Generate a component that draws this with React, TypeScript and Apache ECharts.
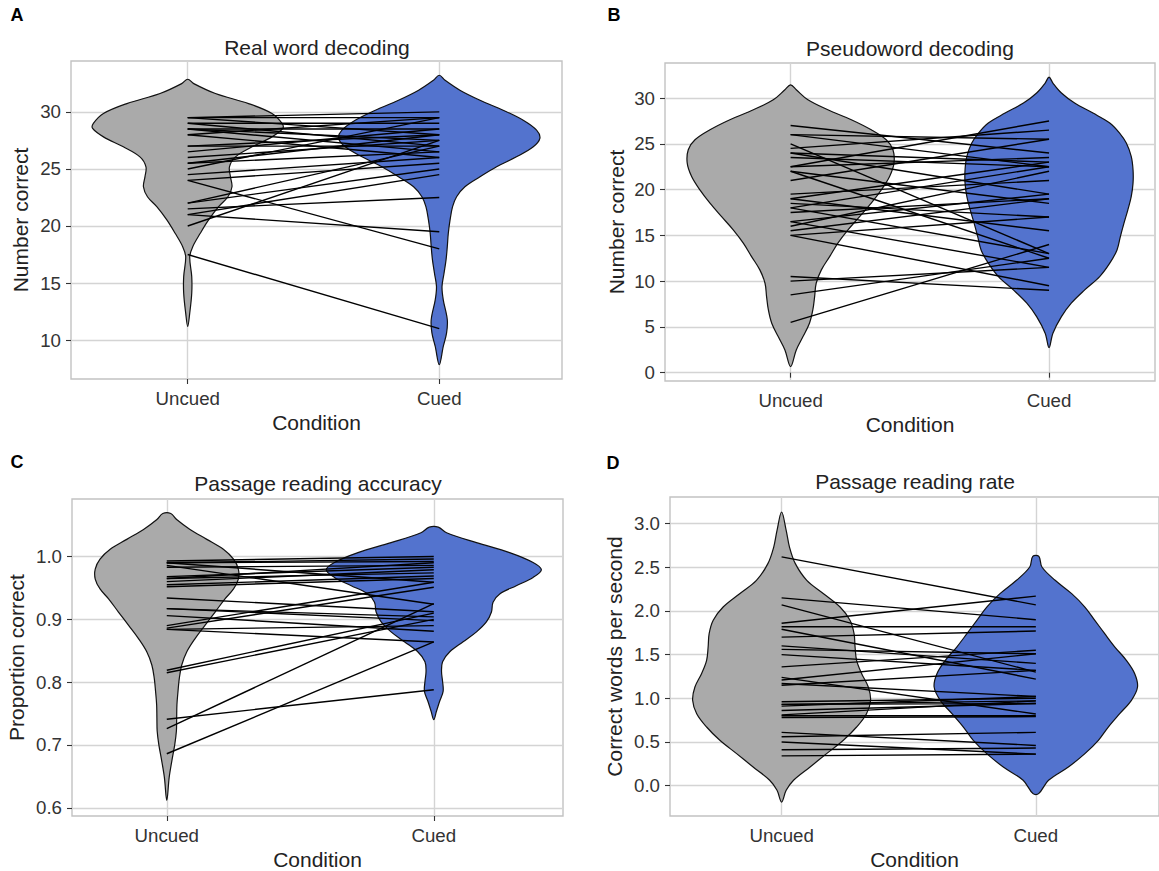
import React, { useEffect, useRef } from "react";
import * as echarts from "echarts";

const FONT = '"Liberation Sans", Arial, Helvetica, sans-serif';
const conditions = ["Uncued", "Cued"];

// ---------- Panel A: Real word decoding ----------
const realUncued = [29.5, 29.5, 29.5, 29, 29, 28.5, 28.5, 28.5, 28, 28, 27, 27, 26.5, 26, 25.5, 25.5, 25, 24.5, 24, 24, 22, 22, 21.5, 21, 21, 20, 17.5];
const realCued = [29.5, 28, 30, 29, 27, 28.5, 27.5, 26.5, 29.5, 26, 28, 27, 28.5, 27.5, 28, 26.5, 29.5, 26, 18, 25.5, 25, 27, 22.5, 19.5, 24.5, 27.5, 11];
// violin outline: [value, half width in category units]
const realUncuedViolin = [[32.86, 0], [32.48, 0.024], [31.61, 0.11], [30.73, 0.242], [29.86, 0.335], [28.99, 0.375], [28.55, 0.378], [27.81, 0.335], [26.94, 0.256], [26.06, 0.19], [25.19, 0.166], [24.31, 0.17], [23.44, 0.176], [22.56, 0.16], [21.69, 0.123], [20.53, 0.083], [19.36, 0.05], [18.19, 0.02], [17.31, 0.008], [15.56, 0.016], [14.11, 0.016], [12.36, 0.008], [11.19, 0]];
const realCuedViolin = [[33.21, 0], [32.77, 0.023], [31.9, 0.082], [31.02, 0.162], [30.15, 0.254], [29.27, 0.334], [28.4, 0.387], [27.67, 0.4], [26.94, 0.374], [26.06, 0.307], [25.19, 0.228], [24.31, 0.162], [23.44, 0.102], [22.56, 0.069], [21.69, 0.053], [20.53, 0.043], [19.36, 0.036], [18.19, 0.032], [17.03, 0.027], [15.86, 0.019], [14.69, 0.011], [13.53, 0.016], [11.78, 0.032], [10.61, 0.029], [9.44, 0.016], [7.84, 0]];
const realTicks = [10, 15, 20, 25, 30];

// ---------- Panel B: Pseudoword decoding ----------
const pseudoUncued = [27, 26, 26, 25, 24.5, 24, 24, 23.5, 22.5, 22.5, 22, 22, 21, 19.5, 19, 19, 18.5, 18, 18, 17.5, 16.5, 16.5, 16, 15.5, 15, 15, 10.5, 10, 8.5, 5.5];
const pseudoCued = [24, 22.5, 25.5, 13, 26.5, 23, 19.5, 22.5, 23.5, 27.5, 12.5, 18.5, 25.5, 21, 15.5, 23, 17, 22.5, 13, 19, 19.5, 11.5, 22, 19, 9.5, 17, 9, 11.5, 12.5, 14];
const pseudoUncuedViolin = [[31.45, 0], [30.91, 0.022], [29.81, 0.067], [28.72, 0.144], [27.63, 0.235], [26.53, 0.312], [25.44, 0.37], [24.35, 0.396], [22.89, 0.4], [21.43, 0.383], [19.97, 0.351], [18.52, 0.312], [17.05, 0.267], [15.6, 0.222], [14.15, 0.183], [12.68, 0.151], [11.23, 0.119], [9.77, 0.099], [8.31, 0.093], [6.85, 0.086], [5.4, 0.073], [3.94, 0.048], [2.48, 0.022], [0.66, 0]];
const pseudoCuedViolin = [[32.29, 0], [31.64, 0.015], [30.55, 0.048], [29.45, 0.099], [28.36, 0.17], [27.27, 0.235], [26.17, 0.273], [25.08, 0.299], [23.62, 0.318], [22.16, 0.325], [20.71, 0.325], [19.24, 0.318], [17.79, 0.305], [16.33, 0.29], [14.87, 0.276], [13.41, 0.263], [11.96, 0.235], [10.5, 0.196], [9.04, 0.138], [7.59, 0.086], [6.12, 0.048], [4.31, 0.015], [2.73, 0]];
const pseudoTicks = [0, 5, 10, 15, 20, 25, 30];

// ---------- Panel C: Passage reading accuracy ----------
const accUncued = [0.993, 0.99, 0.99, 0.986, 0.983, 0.968, 0.965, 0.96, 0.955, 0.952, 0.99, 0.965, 0.934, 0.917, 0.917, 0.906, 0.89, 0.886, 0.884, 0.884, 0.819, 0.815, 0.741, 0.726, 0.686];
const accCued = [1.0, 0.996, 0.992, 0.924, 0.986, 0.983, 0.974, 0.979, 0.969, 0.965, 0.959, 0.99, 0.912, 0.904, 0.898, 0.881, 0.959, 0.951, 0.864, 0.89, 0.91, 0.9, 0.788, 0.925, 0.864];
const accUncuedViolin = [[1.0684, 0.015], [1.0589, 0.037], [1.0431, 0.087], [1.0273, 0.15], [1.0115, 0.212], [0.9957, 0.25], [0.9799, 0.268], [0.9642, 0.268], [0.9484, 0.25], [0.9326, 0.218], [0.9116, 0.181], [0.8904, 0.143], [0.8694, 0.106], [0.8484, 0.075], [0.8273, 0.056], [0.8063, 0.047], [0.7853, 0.042], [0.7641, 0.038], [0.7431, 0.037], [0.7221, 0.036], [0.701, 0.03], [0.6747, 0.019], [0.6484, 0.009], [0.6116, 0]];
const accCuedViolin = [[1.0468, 0.017], [1.0379, 0.048], [1.0221, 0.16], [1.0063, 0.284], [0.9905, 0.372], [0.9788, 0.403], [0.9668, 0.372], [0.9536, 0.309], [0.9405, 0.247], [0.9274, 0.222], [0.9116, 0.216], [0.8958, 0.197], [0.88, 0.16], [0.8642, 0.11], [0.8484, 0.06], [0.8326, 0.033], [0.8168, 0.029], [0.801, 0.033], [0.7853, 0.035], [0.7695, 0.022], [0.7537, 0.01], [0.7404, 0]];
const accTicks = [0.6, 0.7, 0.8, 0.9, 1.0];

// ---------- Panel D: Passage reading rate ----------
const rateUncued = [2.62, 2.15, 2.07, 1.86, 1.82, 1.79, 1.7, 1.6, 1.56, 1.5, 1.36, 1.24, 1.21, 1.15, 1.17, 0.96, 0.93, 0.93, 0.91, 0.86, 0.81, 0.78, 0.8, 0.61, 0.56, 0.5, 0.41, 0.34];
const rateCued = [2.07, 1.9, 1.3, 2.17, 1.82, 1.22, 1.77, 1.4, 1.51, 1.32, 1.55, 0.82, 1.51, 1.32, 1.02, 1.0, 0.97, 0.94, 1.02, 0.94, 0.97, 0.79, 0.8, 0.46, 0.61, 0.36, 0.43, 0.36];
const rateUncuedViolin = [[3.133, 0], [2.923, 0.018], [2.732, 0.031], [2.542, 0.054], [2.351, 0.099], [2.198, 0.165], [2.045, 0.23], [1.893, 0.269], [1.74, 0.285], [1.587, 0.289], [1.435, 0.295], [1.282, 0.315], [1.129, 0.341], [0.977, 0.35], [0.824, 0.334], [0.671, 0.295], [0.519, 0.243], [0.366, 0.177], [0.213, 0.112], [0.061, 0.047], [-0.054, 0.018], [-0.188, 0]];
const rateCuedViolin = [[2.626, 0.012], [2.503, 0.024], [2.351, 0.076], [2.198, 0.141], [2.045, 0.193], [1.893, 0.232], [1.74, 0.271], [1.587, 0.311], [1.435, 0.356], [1.282, 0.389], [1.129, 0.4], [0.977, 0.376], [0.824, 0.33], [0.671, 0.285], [0.519, 0.246], [0.366, 0.193], [0.213, 0.128], [0.061, 0.05], [-0.092, 0.011]];
const rateTicks = [0, 0.5, 1.0, 1.5, 2.0, 2.5, 3.0];

const titles = ["Real word decoding", "Pseudoword decoding", "Passage reading accuracy", "Passage reading rate"];
const yNames = ["Number correct", "Number correct", "Proportion correct", "Correct words per second"];
const letters = ["A", "B", "C", "D"];

const GRAY = "#AAAAAA";
const BLUE = "#5373CE";

const panelData = [
  { u: realUncued, c: realCued, uv: realUncuedViolin, cv: realCuedViolin, ticks: realTicks, dec: 0 },
  { u: pseudoUncued, c: pseudoCued, uv: pseudoUncuedViolin, cv: pseudoCuedViolin, ticks: pseudoTicks, dec: 0 },
  { u: accUncued, c: accCued, uv: accUncuedViolin, cv: accCuedViolin, ticks: accTicks, dec: 1 },
  { u: rateUncued, c: rateCued, uv: rateUncuedViolin, cv: rateCuedViolin, ticks: rateTicks, dec: 1 },
];

// layout
const grids = [
  { left: 71, top: 61, width: 491, height: 318 },
  { left: 665, top: 63, width: 490, height: 318 },
  { left: 72, top: 499, width: 491, height: 320 },
  { left: 670, top: 497, width: 491, height: 319 },
];
const xRanges = [[0.536, 2.488], [0.514, 2.41], [0.645, 2.484], [0.561, 2.4845]];
const yRanges = [[6.59, 34.46], [-0.91, 33.83], [0.5869, 1.0916], [-0.348, 3.305]];
const yNameGaps = [40, 38, 45, 45];
const titlePos = [[317, 47], [910, 48], [318, 483], [915, 481]];
const letterPos = [[17, 15], [614, 15], [17, 462], [613, 463]];

function violinSeries(i: number, pos: number, profile: number[][], color: string) {
  return {
    type: "custom",
    xAxisIndex: i,
    yAxisIndex: i,
    z: 2,
    silent: true,
    dimensions: ["x", "y", "hw"],
    encode: { x: 0, y: 1 },
    data: profile.map((p) => [pos, p[0], p[1]]),
    renderItem: (params: any, api: any) => {
      if (params.dataIndexInside !== 0) return null;
      const n = params.dataInsideLength;
      const left: number[][] = [];
      const right: number[][] = [];
      for (let k = 0; k < n; k++) {
        const c = api.value(0, k);
        const v = api.value(1, k);
        const hw = api.value(2, k);
        left.push(api.coord([c - hw, v]));
        if (hw > 0) right.push(api.coord([c + hw, v]));
      }
      const pts = left.concat(right.reverse());
      return {
        type: "polygon",
        shape: { points: pts, smooth: 0.35 },
        style: { fill: color, stroke: "#111", lineWidth: 1.2 },
      };
    },
  };
}

function pairSeries(i: number, u: number[], c: number[]) {
  return {
    type: "custom",
    xAxisIndex: i,
    yAxisIndex: i,
    z: 3,
    silent: true,
    dimensions: ["x", "y", "y2"],
    encode: { x: 0, y: 1 },
    data: u.map((v, k) => [1, v, c[k]]),
    renderItem: (params: any, api: any) => {
      const p1 = api.coord([1, api.value(1)]);
      const p2 = api.coord([2, api.value(2)]);
      return {
        type: "line",
        shape: { x1: p1[0], y1: p1[1], x2: p2[0], y2: p2[1] },
        style: { stroke: "#000", lineWidth: 1.4 },
      };
    },
  };
}

export default function App() {
  const ref = useRef<HTMLDivElement>(null);
  useEffect(() => {
    if (!ref.current) return;
    const chart = echarts.init(ref.current, null, { renderer: "svg" });
    const gridOpt = grids.map((g) => ({
      ...g,
      show: true,
      backgroundColor: "#fff",
      borderColor: "#c2c2c2",
      borderWidth: 1.4,
      containLabel: false,
    }));
    const xAxes = grids.map((g, i) => ({
      type: "value",
      gridIndex: i,
      min: xRanges[i][0],
      max: xRanges[i][1],
      axisLine: { show: false },
      axisTick: { show: true, customValues: [1, 2], length: 5, lineStyle: { color: "#333", width: 1.1 } },
      axisLabel: {
        customValues: [1, 2],
        formatter: (v: number) => (Math.abs(v - 1) < 1e-6 ? conditions[0] : conditions[1]),
        color: "#333",
        fontSize: 18.7,
        fontFamily: FONT,
        margin: 10,
      },
      splitLine: { show: true, lineStyle: { color: "#d4d4d4", width: 1.4 } },
      name: "Condition",
      nameLocation: "middle",
      nameGap: 33,
      nameTextStyle: { color: "#222", fontSize: 21, fontFamily: FONT },
    }));
    const yAxes = grids.map((g, i) => ({
      type: "value",
      gridIndex: i,
      min: yRanges[i][0],
      max: yRanges[i][1],
      axisLine: { show: false },
      axisTick: { show: true, customValues: panelData[i].ticks, length: 5, lineStyle: { color: "#333", width: 1.1 } },
      axisLabel: {
        customValues: panelData[i].ticks,
        formatter: (v: number) => v.toFixed(panelData[i].dec),
        color: "#333",
        fontSize: 18.7,
        fontFamily: FONT,
        margin: 10,
      },
      splitLine: { show: true, lineStyle: { color: "#d4d4d4", width: 1.4 } },
      name: yNames[i],
      nameLocation: "middle",
      nameGap: yNameGaps[i],
      nameTextStyle: { color: "#222", fontSize: 21, fontFamily: FONT },
    }));
    const series: any[] = [];
    panelData.forEach((p, i) => {
      series.push(violinSeries(i, 1, p.uv, GRAY));
      series.push(violinSeries(i, 2, p.cv, BLUE));
      series.push(pairSeries(i, p.u, p.c));
    });
    const graphics: any[] = [];
    titles.forEach((t, i) => {
      graphics.push({
        type: "text",
        x: titlePos[i][0],
        y: titlePos[i][1],
        silent: true,
        style: { text: t, font: `21px ${FONT}`, fill: "#222", align: "center", verticalAlign: "middle", textAlign: "center", textVerticalAlign: "middle" },
      });
    });
    letters.forEach((t, i) => {
      graphics.push({
        type: "text",
        x: letterPos[i][0],
        y: letterPos[i][1],
        silent: true,
        style: { text: t, font: `bold 18px ${FONT}`, fill: "#000", align: "center", verticalAlign: "middle", textAlign: "center", textVerticalAlign: "middle" },
      });
    });
    chart.setOption({
      animation: false,
      backgroundColor: "#fff",
      grid: gridOpt,
      xAxis: xAxes,
      yAxis: yAxes,
      series,
      graphic: graphics,
    });
    return () => chart.dispose();
  }, []);
  return <div ref={ref} style={{ position: "absolute", left: 0, top: 0, width: 1159, height: 871 }} />;
}
